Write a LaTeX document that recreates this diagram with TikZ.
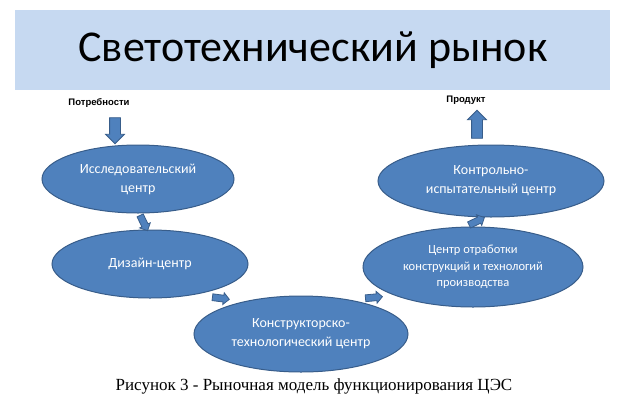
\documentclass[tikz,border=0pt]{standalone}
\usepackage{fontspec}
\setmainfont{Liberation Serif}
\newfontfamily\calfont{Carlito}
\newfontfamily\labfont{Liberation Sans}
\usetikzlibrary{shapes.geometric,shapes.arrows}
\definecolor{bandblue}{HTML}{C6D9F1}
\definecolor{ovalblue}{HTML}{4F81BD}
\definecolor{edgeblue}{HTML}{385D8A}
\tikzset{
  centre/.style={ellipse,fill=ovalblue,draw=edgeblue,line width=1pt,text=white,
    font=\calfont\fontsize{14}{19}\selectfont,align=center,inner sep=0pt},
  flowarrow/.style={single arrow,fill=ovalblue,draw=edgeblue,line width=0.8pt,
    single arrow head extend=2.5pt,inner xsep=0pt,inner ysep=3pt,minimum height=#1},
  flowarrow/.default=17pt
}
\begin{document}
\begin{tikzpicture}[x=1pt,y=-1pt]
  \useasboundingbox (0,0) rectangle (629,413);
  % title band
  \fill[bandblue] (15,10) rectangle (610,90);
  \node (title) at (313,50) {\calfont\fontsize{44}{48}\selectfont Светотехнический рынок};

  % input and output labels
  \node[font=\labfont\bfseries\fontsize{9.5}{11}\selectfont] (needs) at (99,103) {Потребности};
  \node[font=\labfont\bfseries\fontsize{9.5}{11}\selectfont] (product) at (466,100) {Продукт};

  % centres
  \node[centre,minimum width=192pt,minimum height=68pt] (research) at (138,179) {Исследовательский\\центр};
  \node[centre,minimum width=196pt,minimum height=68pt] (design) at (150,264) {Дизайн-центр};
  \node[centre,minimum width=214pt,minimum height=76pt] (construct) at (301,334) {Конструкторско-\\технологический центр};
  \node[centre,minimum width=220pt,minimum height=80pt,font=\calfont\fontsize{12.5}{16.5}\selectfont] (trial) at (473,267) {Центр отработки\\конструкций и технологий\\производства};
  \node[centre,minimum width=226pt,minimum height=72pt] (control) at (491,181) {Контрольно-\\испытательный центр};

  % block arrows
  \node[flowarrow=26pt,inner ysep=5pt,single arrow head extend=4pt,rotate=-90] (in) at (115,128) {};
  \node[flowarrow=28pt,inner ysep=5pt,single arrow head extend=4pt,rotate=90] (out) at (477,127) {};
  \path (research.272) -- node[flowarrow,sloped] (a1) {} (design.95);
  \path (design.-35) -- node[flowarrow,sloped] (a2) {} (construct.150);
  \path (construct.35) -- node[flowarrow,sloped] (a3) {} (trial.200);
  \path (trial.100) -- node[flowarrow,sloped] (a4) {} (control.-100);

  % caption
  \node (caption) at (314,386) {\fontsize{17}{20}\selectfont Рисунок 3 - Рыночная модель функционирования ЦЭС};
\end{tikzpicture}
\end{document}
